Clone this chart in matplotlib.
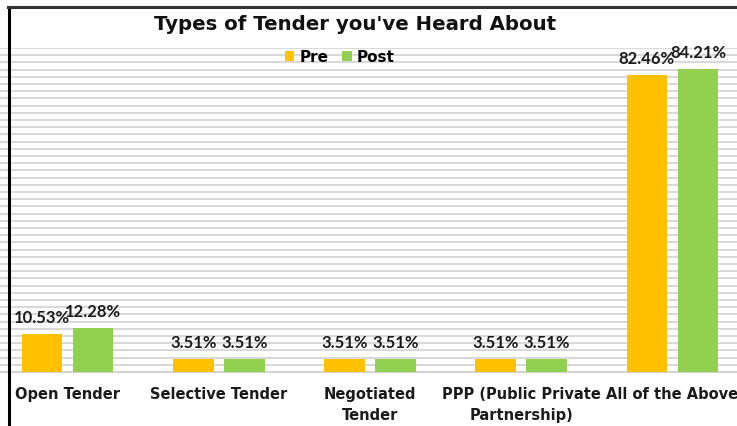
import matplotlib
matplotlib.use("Agg")
import matplotlib.pyplot as plt
from matplotlib.lines import Line2D
from matplotlib.patches import Patch
import numpy as np

categories = ["Open Tender", "Selective Tender", "Negotiated\nTender",
              "PPP (Public Private\nPartnership)", "All of the Above"]
pre = [10.53, 3.51, 3.51, 3.51, 82.46]
post = [12.28, 3.51, 3.51, 3.51, 84.21]
series_names = ["Pre", "Post"]
colors = ["#FFC000", "#92D050"]

plt.rcParams['font.family'] = ['DejaVu Sans']

W, H = 737, 426
fig = plt.figure(figsize=(W / 100, H / 100), dpi=100)

# axes in pixel coordinates (chart was cropped on the left/right)
left_px, right_px = -8, 748
bottom_px, top_px = 372, 48
ax = fig.add_axes([left_px / W, (H - bottom_px) / H,
                   (right_px - left_px) / W, (bottom_px - top_px) / H])

x = np.arange(len(categories))
bw = 0.268
off = 0.169
b1 = ax.bar(x - off, pre, bw, color=colors[0], zorder=3)
b2 = ax.bar(x + off, post, bw, color=colors[1], zorder=3)

for bars, vals in ((b1, pre), (b2, post)):
    for rect, v in zip(bars, vals):
        ax.text(rect.get_x() + rect.get_width() / 2, v + 2.2, f"{v:.2f}%",
                ha="center", va="bottom", fontsize=12, fontweight="bold",
                family=["Lato", "DejaVu Sans"], color="#1a1a1a", zorder=4)

ax.set_xlim(-0.5, len(categories) - 0.5)
ax.set_ylim(0, 90)
ax.set_yticks(np.arange(0, 91, 2))
ax.yaxis.grid(True, color="#d6d6d6", linewidth=1.3, zorder=0)
ax.set_axisbelow(True)
ax.tick_params(axis="y", left=False, labelleft=False)
ax.tick_params(axis="x", bottom=False, pad=7.5)
ax.set_xticks(x)
ax.set_xticklabels(categories, fontsize=10.5, fontweight="bold", color="#1a1a1a",
                   linespacing=1.5, va="top")
for s in ["left", "right", "top"]:
    ax.spines[s].set_visible(False)
ax.spines["bottom"].set_color("#d4d4d4")
ax.spines["bottom"].set_linewidth(1.6)

fig.text(355 / W, 1 - 25 / H, "Types of Tender you've Heard About",
         ha="center", va="center", fontsize=14.2, fontweight="bold", color="#111111")

handles = [Patch(facecolor=c, edgecolor="none") for c in colors]
leg = fig.legend(handles, series_names, loc="center", bbox_to_anchor=(340 / W, 1 - 57 / H),
                 ncol=2, frameon=False, fontsize=11, handlelength=0.6, handleheight=0.6,
                 handletextpad=0.35, columnspacing=0.9, borderaxespad=0)
for t in leg.get_texts():
    t.set_fontweight("bold")

# cropped chart border
fig.add_artist(Line2D([8.5 / W, 8.5 / W], [0, 1 - 7 / H], color="black", linewidth=2.2,
                      transform=fig.transFigure))
fig.add_artist(Line2D([8 / W, 1], [1 - 7 / H, 1 - 7 / H], color="#333333", linewidth=2.2,
                      transform=fig.transFigure))

fig.savefig("out.png", dpi=100, facecolor="white")
